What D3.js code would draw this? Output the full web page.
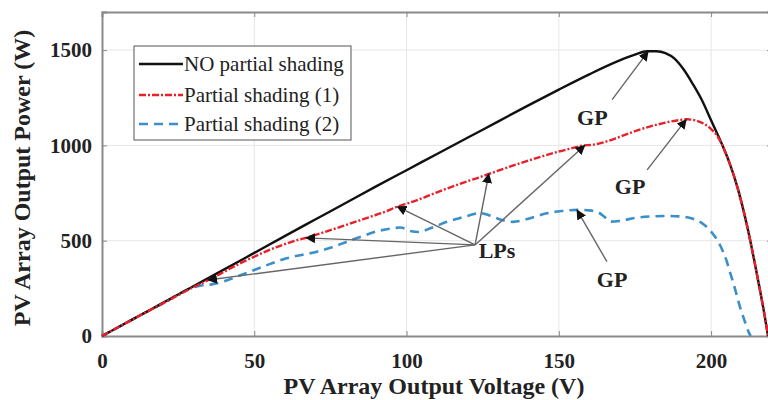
<!DOCTYPE html>
<html>
<head>
<meta charset="utf-8">
<script src="https://cdn.jsdelivr.net/npm/d3@7"></script>
<style>
  body { margin: 0; background: #fff; }
  text { font-family: "Liberation Serif", "Times New Roman", serif; }
</style>
</head>
<body>
<div id="chart"></div>
<script>
// voltage (V) / power (W)
var noShading = [
    [0, 0], [10, 87], [20, 174], [30, 261], [40, 348], [50, 436], [60, 524], [70, 611],
    [80, 698], [90, 785], [100, 870], [110, 955], [120, 1040], [130, 1125], [140, 1210],
    [150, 1293], [160, 1373], [170, 1446], [175, 1476], [179, 1494], [182, 1494],
    [185, 1484], [188, 1455], [191, 1398], [194, 1322], [197, 1237], [200, 1132],
    [202, 1062], [204, 990], [206, 910], [208, 815], [210, 700], [212, 565],
    [214, 410], [216, 245], [217.5, 115], [218.7, 0]
];

var shading1 = [
    [0, 0], [10, 86], [20, 171], [30, 256], [35, 294], [40, 336], [45, 378], [50, 416],
    [55, 452], [60, 482], [64, 503], [67, 515], [72, 540], [80, 582], [88, 625],
    [93, 652], [97, 679], [100, 694], [105, 722], [110, 754], [115, 784], [120, 812],
    [124, 833], [127, 850], [132, 878], [138, 910], [145, 945], [150, 968], [155, 988],
    [158, 1000], [161, 1003], [164, 1013], [170, 1045], [176, 1080], [182, 1108],
    [187, 1126], [190, 1134], [192, 1137], [195, 1131], [198, 1110], [200, 1086],
    [202, 1050], [204, 990], [206, 910], [208, 815], [210, 700], [212, 565],
    [214, 410], [216, 245], [217.5, 115], [218.7, 0]
];

var shading2 = [
    [0, 0], [10, 86], [20, 171], [30, 255], [33, 266], [36, 271], [40, 287], [45, 316],
    [50, 346], [55, 377], [60, 405], [65, 424], [70, 440], [75, 463], [80, 492],
    [85, 521], [90, 548], [95, 564], [98, 569], [101, 552], [104, 546], [107, 560],
    [110, 578], [113, 598], [117, 617], [120, 630], [124, 645], [127, 634], [131, 610],
    [135, 599], [140, 615], [146, 644], [151, 656], [156, 662], [160, 659], [163, 648],
    [165, 625], [167, 600], [170, 604], [175, 619], [180, 627], [185, 630], [190, 627],
    [194, 615], [197, 592], [200, 548], [202, 504], [204, 440], [205, 399], [206, 345],
    [207.3, 278], [208.5, 210], [209.5, 152], [211, 80], [212.5, 15], [213, 0]
];

var xTicks = [0, 50, 100, 150, 200];
var yTicks = [0, 500, 1000, 1500];

// local peaks that the "LPs" arrows point at
var lpPoints = [[34.8, 294], [67, 515], [97, 679], [127, 850], [158.5, 1000]];
var lpLabel = [129.7, 451];
var lpFrom = [122.5, 478];

// global peaks: label position, arrow start, arrow tip
var gpNotes = [
    { label: [161, 1150], from: [167.5, 1240], to: [179.3, 1492] },
    { label: [173.4, 783], from: [179, 872], to: [191.8, 1135] },
    { label: [167.5, 300], from: [165.8, 390], to: [156, 660] }
];

var seriesNames = ["NO partial shading", "Partial shading (1)", "Partial shading (2)"];

var margin = { top: 12, right: -4, bottom: 64, left: 102 },
    width = 768 - margin.left - margin.right,
    height = 400 - margin.top - margin.bottom;

var svg = d3.select("#chart").append("svg")
    .attr("width", 768)
    .attr("height", 400)
    .style("overflow", "hidden");

var g = svg.append("g")
    .attr("transform", "translate(" + margin.left + "," + margin.top + ")");

var x = d3.scaleLinear().domain([0, 220]).range([0, width]);
var y = d3.scaleLinear().domain([0, 1700]).range([height, 0]);

// grid
g.append("g")
    .selectAll("line.vg")
    .data(xTicks.slice(1))
    .enter().append("line")
    .attr("x1", d => x(d)).attr("x2", d => x(d))
    .attr("y1", 0).attr("y2", height)
    .attr("stroke", "#e6e6e6").attr("stroke-width", 1);

g.append("g")
    .selectAll("line.hg")
    .data(yTicks.slice(1))
    .enter().append("line")
    .attr("x1", 0).attr("x2", width)
    .attr("y1", d => y(d)).attr("y2", d => y(d))
    .attr("stroke", "#e6e6e6").attr("stroke-width", 1);

// axes (ticks inside, like matlab)
var xAxis = g.append("g")
    .attr("transform", "translate(0," + height + ")")
    .call(d3.axisBottom(x).tickValues(xTicks).tickSize(-5).tickPadding(14).tickFormat(d3.format("d")));

var yAxis = g.append("g")
    .call(d3.axisLeft(y).tickValues(yTicks).tickSize(-5).tickPadding(10).tickFormat(d3.format("d")));

g.append("g")
    .call(d3.axisTop(x).tickValues(xTicks).tickSize(-5).tickFormat(""));

g.append("g")
    .attr("transform", "translate(" + width + ",0)")
    .call(d3.axisRight(y).tickValues(yTicks).tickSize(-5).tickFormat(""));

g.selectAll(".domain").attr("stroke", "#8a8a8a").attr("stroke-width", 2);
g.selectAll(".tick line").attr("stroke", "#8a8a8a");
g.selectAll(".tick text")
    .attr("fill", "#222")
    .style("font-family", "'Liberation Serif', serif")
    .style("font-size", "21px")
    .style("font-weight", "bold");
xAxis.selectAll(".tick text").attr("dy", "0.85em");

// curves
var line = d3.line()
    .x(d => x(d[0]))
    .y(d => y(d[1]))
    .curve(d3.curveMonotoneX);

g.append("path")
    .datum(shading2)
    .attr("fill", "none")
    .attr("stroke", "#3b8fca")
    .attr("stroke-width", 2.6)
    .attr("stroke-dasharray", "9,6")
    .attr("d", line);

g.append("path")
    .datum(noShading)
    .attr("fill", "none")
    .attr("stroke", "#111")
    .attr("stroke-width", 2.4)
    .attr("d", line);

g.append("path")
    .datum(shading1)
    .attr("fill", "none")
    .attr("stroke", "#e8202a")
    .attr("stroke-width", 2.4)
    .attr("stroke-dasharray", "7,2,2,2")
    .attr("d", line);

// arrows
svg.append("defs").append("marker")
    .attr("id", "head")
    .attr("viewBox", "0 0 10 10")
    .attr("refX", 9).attr("refY", 5)
    .attr("markerWidth", 10).attr("markerHeight", 10)
    .attr("markerUnits", "userSpaceOnUse")
    .attr("orient", "auto")
    .append("path")
    .attr("d", "M0,0 L10,5 L0,10 Z")
    .attr("fill", "#111");

g.selectAll(".lp")
    .data(lpPoints)
    .enter().append("line")
    .attr("class", "lp")
    .attr("x1", x(lpFrom[0])).attr("y1", y(lpFrom[1]))
    .attr("x2", d => x(d[0])).attr("y2", d => y(d[1]))
    .attr("stroke", "#666").attr("stroke-width", 1.4)
    .attr("marker-end", "url(#head)");

g.selectAll(".gp")
    .data(gpNotes)
    .enter().append("line")
    .attr("class", "gp")
    .attr("x1", d => x(d.from[0])).attr("y1", d => y(d.from[1]))
    .attr("x2", d => x(d.to[0])).attr("y2", d => y(d.to[1]))
    .attr("stroke", "#666").attr("stroke-width", 1.4)
    .attr("marker-end", "url(#head)");

g.append("text")
    .attr("x", x(lpLabel[0])).attr("y", y(lpLabel[1]))
    .attr("text-anchor", "middle").attr("dy", "0.35em")
    .style("font-size", "22px").style("font-weight", "bold")
    .attr("fill", "#222")
    .text("LPs");

g.selectAll(".gpText")
    .data(gpNotes)
    .enter().append("text")
    .attr("x", d => x(d.label[0])).attr("y", d => y(d.label[1]))
    .attr("text-anchor", "middle").attr("dy", "0.35em")
    .style("font-size", "22px").style("font-weight", "bold")
    .attr("fill", "#222")
    .text("GP");

// legend
var legend = svg.append("g").attr("transform", "translate(134,46)");
legend.append("rect")
    .attr("width", 217).attr("height", 94)
    .attr("fill", "#fff").attr("stroke", "#555").attr("stroke-width", 1);

var legendStyles = [
    { stroke: "#111", dash: null },
    { stroke: "#e8202a", dash: "7,2,2,2" },
    { stroke: "#3b8fca", dash: "9,6" }
];
var rowY = [18, 49, 78];

legend.selectAll(".ll")
    .data(seriesNames)
    .enter().append("line")
    .attr("x1", 5).attr("x2", 49)
    .attr("y1", (d, i) => rowY[i]).attr("y2", (d, i) => rowY[i])
    .attr("stroke", (d, i) => legendStyles[i].stroke)
    .attr("stroke-width", 2.4)
    .attr("stroke-dasharray", (d, i) => legendStyles[i].dash);

legend.selectAll(".lt")
    .data(seriesNames)
    .enter().append("text")
    .attr("x", 50).attr("y", (d, i) => rowY[i])
    .attr("dy", "0.35em")
    .style("font-size", "21px")
    .attr("fill", "#222")
    .text(d => d);

// axis labels
svg.append("text")
    .attr("x", margin.left + x(109)).attr("y", 394)
    .attr("text-anchor", "middle")
    .style("font-size", "24px").style("font-weight", "bold")
    .attr("fill", "#222")
    .text("PV Array Output Voltage (V)");

svg.append("text")
    .attr("transform", "translate(30," + (margin.top + height / 2 + 4) + ") rotate(-90)")
    .attr("text-anchor", "middle")
    .style("font-size", "24px").style("font-weight", "bold")
    .attr("fill", "#222")
    .text("PV Array Output Power (W)");
</script>
</body>
</html>
